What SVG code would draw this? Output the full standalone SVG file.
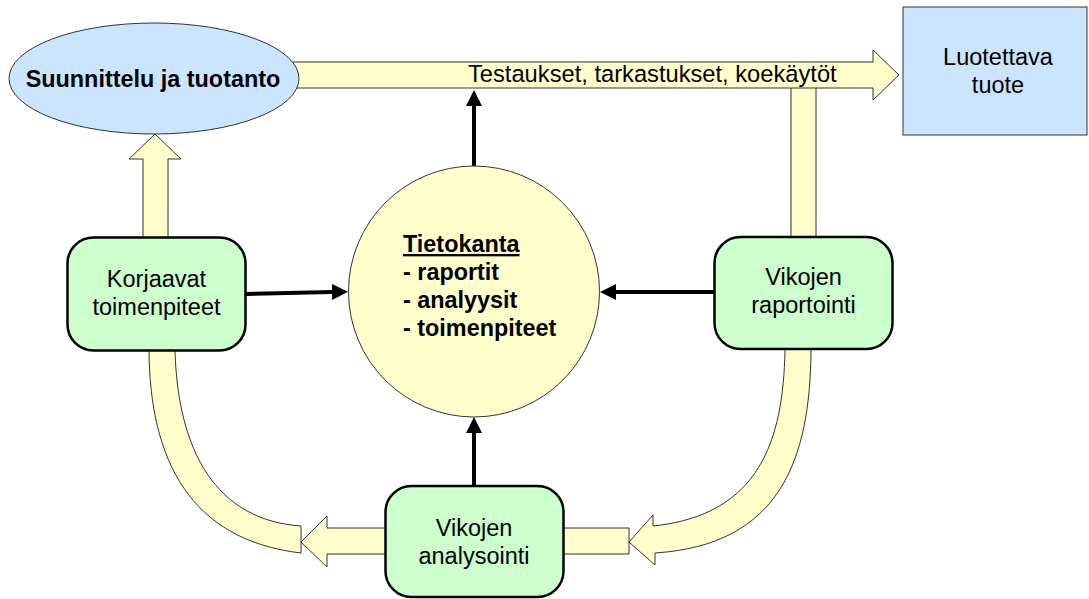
<svg xmlns="http://www.w3.org/2000/svg" width="1089" height="599" viewBox="0 0 1089 599">
  <defs>
    <style>
      .flow { fill: #ffffcc; stroke: #333333; stroke-width: 1; stroke-linejoin: miter; }
      .box { fill: #ccffcc; stroke: #000000; stroke-width: 2.5; }
      .blue { fill: #cce5ff; stroke: #333333; stroke-width: 1; }
      .db { fill: #ffffcc; stroke: #333333; stroke-width: 1; }
      .link { stroke: #000000; stroke-width: 4; fill: none; marker-end: url(#head); }
      .lbl { font-family: "Liberation Sans", Arial, sans-serif; font-size: 23.5px; fill: #000000; text-anchor: middle; }
      .bold { font-family: "Liberation Sans", Arial, sans-serif; font-size: 23.4px; font-weight: bold; fill: #000000; }
    </style>
    <marker id="head" markerUnits="userSpaceOnUse" markerWidth="17" markerHeight="17" refX="0" refY="8" orient="auto">
      <path d="M0,0 L16,8 L0,16 Z" fill="#000000"/>
    </marker>
  </defs>

  <!-- broad process flows (drawn beneath the nodes) -->
  <g id="connectors">
    <!-- feedback from fault reporting up into the main flow -->
    <path class="flow" d="M791,80 L791,245 L816,245 L816,80 Z"/>
    <!-- main flow: design & production to reliable product -->
    <path class="flow" d="M280,62 L873,62 L873,50 L899,75 L873,100 L873,88 L280,88 Z"/>
    <!-- corrective actions back to design & production -->
    <path class="flow" d="M143,245 L143,159 L129,159 L155,134 L181,159 L168,159 L168,245 Z"/>
    <!-- curved flow: fault reporting down to analysis -->
    <path class="flow" d="M785,343 L785,351 C783,440 760,515 653,526 L653,515 L629,542 L655,565 L655,553 C780,545 810,460 811,351 L811,343 Z"/>
    <path class="flow" d="M556,528 L629,528 L629,554 L556,554 Z"/>
    <!-- flow: analysis to corrective actions -->
    <path class="flow" d="M392,528 L327,528 L327,516 L301,542 L327,567 L327,554 L392,554 Z"/>
    <path class="flow" d="M149,343 L149,351 C150,460 190,540 301,553 L301,526 C215,520 178,450 175,351 L175,343 Z"/>

    <!-- information links to and from the database -->
    <line class="link" x1="474" y1="166" x2="474" y2="106"/>
    <line class="link" x1="246" y1="294" x2="332" y2="292"/>
    <line class="link" x1="714" y1="292" x2="616" y2="292"/>
    <line class="link" x1="474" y1="486" x2="474" y2="433"/>
    <!-- label on the main flow -->
    <text x="468" y="82" font-family="Liberation Sans, Arial, sans-serif" font-size="23.7" fill="#000000">Testaukset, tarkastukset, koekäytöt</text>
  </g>

  <g id="design">
    <ellipse class="blue" cx="154" cy="78.5" rx="145" ry="55.5"/>
    <text class="bold" x="153" y="87" text-anchor="middle">Suunnittelu ja tuotanto</text>
  </g>

  <g id="product">
    <rect class="blue" x="903" y="7" width="184" height="128"/>
    <text class="lbl" x="998" y="65">Luotettava</text>
    <text class="lbl" x="998" y="93">tuote</text>
  </g>

  <g id="database">
    <circle class="db" cx="474" cy="291.5" r="125.5"/>
    <text class="bold" x="403" y="252" text-decoration="underline">Tietokanta</text>
    <text class="bold" x="403" y="280">- raportit</text>
    <text class="bold" x="403" y="308">- analyysit</text>
    <text class="bold" x="403" y="336">- toimenpiteet</text>
  </g>

  <g id="corrective">
    <rect class="box" x="67.5" y="237.5" width="178" height="113" rx="26" ry="26"/>
    <text class="lbl" x="156.5" y="287">Korjaavat</text>
    <text class="lbl" x="156.5" y="315">toimenpiteet</text>
  </g>

  <g id="reporting">
    <rect class="box" x="714.5" y="237" width="178" height="112" rx="26" ry="26"/>
    <text class="lbl" x="803.5" y="285">Vikojen</text>
    <text class="lbl" x="803.5" y="313">raportointi</text>
  </g>

  <g id="analysis">
    <rect class="box" x="385.5" y="486" width="178" height="111" rx="26" ry="26"/>
    <text class="lbl" x="474" y="536">Vikojen</text>
    <text class="lbl" x="474" y="564">analysointi</text>
  </g>
</svg>
